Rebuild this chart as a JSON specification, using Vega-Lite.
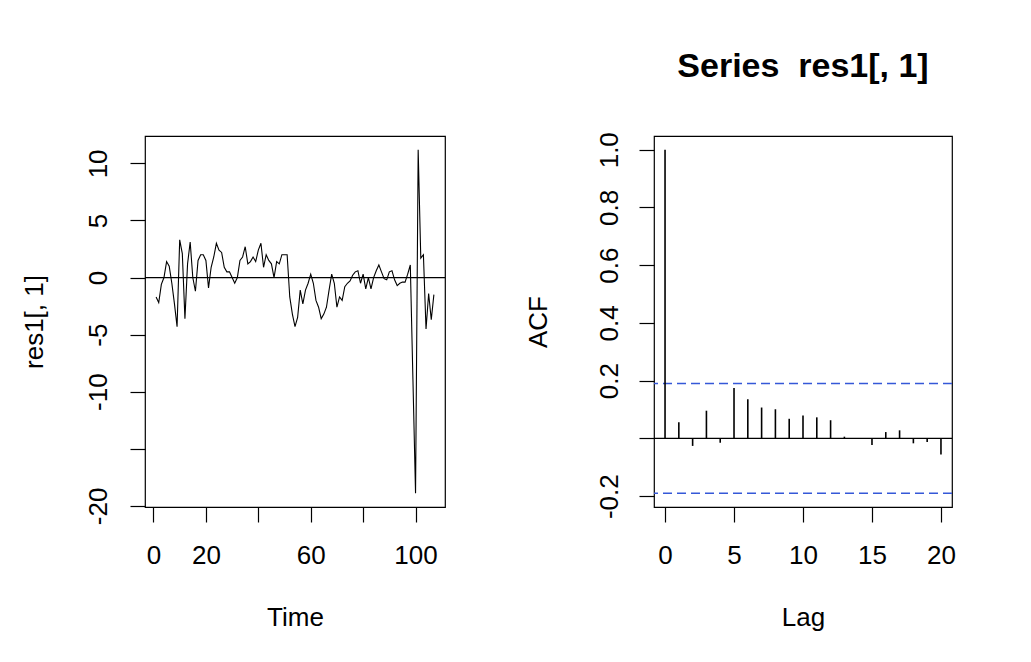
{
  "$schema": "https://vega.github.io/schema/vega-lite/v6.json",
  "padding": {"left": 20, "top": 49, "right": 0, "bottom": 0},
  "background": "white",
  "spacing": 77,
  "config": {
    "view": {"stroke": "black", "strokeWidth": 1.2},
    "font": "Liberation Sans",
    "axis": {
      "domain": false, "grid": false,
      "tickColor": "black", "tickSize": 15, "tickWidth": 1.2,
      "labelFont": "Liberation Sans", "labelFontSize": 26, "labelColor": "black",
      "titleFont": "Liberation Sans", "titleFontSize": 26, "titleFontWeight": "normal", "titleColor": "black",
      "labelOverlap": false, "labelFlush": false
    }
  },
  "datasets": {
    "ts": [
      {"t":1,"v":-1.7},{"t":2,"v":-2.2},{"t":3,"v":-0.6},{"t":4,"v":0.0},{"t":5,"v":1.4},{"t":6,"v":1.0},{"t":7,"v":-0.5},{"t":8,"v":-2.3},{"t":9,"v":-4.3},{"t":10,"v":3.3},
      {"t":11,"v":2.1},{"t":12,"v":-3.6},{"t":13,"v":1.2},{"t":14,"v":3.1},{"t":15,"v":0.0},{"t":16,"v":-1.2},{"t":17,"v":1.5},{"t":18,"v":2.0},{"t":19,"v":2.0},{"t":20,"v":1.5},
      {"t":21,"v":-0.9},{"t":22,"v":0.9},{"t":23,"v":1.8},{"t":24,"v":3.0},{"t":25,"v":2.4},{"t":26,"v":2.2},{"t":27,"v":0.9},{"t":28,"v":0.5},{"t":29,"v":0.5},{"t":30,"v":0.0},
      {"t":31,"v":-0.5},{"t":32,"v":0.0},{"t":33,"v":1.5},{"t":34,"v":1.8},{"t":35,"v":2.7},{"t":36,"v":1.2},{"t":37,"v":1.4},{"t":38,"v":1.8},{"t":39,"v":1.4},{"t":40,"v":2.4},
      {"t":41,"v":3.0},{"t":42,"v":0.9},{"t":43,"v":2.0},{"t":44,"v":1.5},{"t":45,"v":1.2},{"t":46,"v":0.0},{"t":47,"v":1.4},{"t":48,"v":1.2},{"t":49,"v":2.0},{"t":50,"v":2.0},
      {"t":51,"v":2.0},{"t":52,"v":-1.7},{"t":53,"v":-3.2},{"t":54,"v":-4.3},{"t":55,"v":-3.5},{"t":56,"v":-1.1},{"t":57,"v":-2.3},{"t":58,"v":-1.1},{"t":59,"v":-0.5},{"t":60,"v":0.3},
      {"t":61,"v":-0.5},{"t":62,"v":-2.0},{"t":63,"v":-2.6},{"t":64,"v":-3.6},{"t":65,"v":-3.2},{"t":66,"v":-2.6},{"t":67,"v":-1.1},{"t":68,"v":0.3},{"t":69,"v":-0.5},{"t":70,"v":-2.6},
      {"t":71,"v":-1.7},{"t":72,"v":-2.0},{"t":73,"v":-0.8},{"t":74,"v":-0.5},{"t":75,"v":-0.3},{"t":76,"v":0.2},{"t":77,"v":0.5},{"t":78,"v":0.6},{"t":79,"v":-0.5},{"t":80,"v":0.3},
      {"t":81,"v":-1.0},{"t":82,"v":0.0},{"t":83,"v":-1.0},{"t":84,"v":0.0},{"t":85,"v":0.6},{"t":86,"v":1.1},{"t":87,"v":0.5},{"t":88,"v":-0.1},{"t":89,"v":-0.2},{"t":90,"v":0.5},
      {"t":91,"v":0.6},{"t":92,"v":-0.2},{"t":93,"v":-0.7},{"t":94,"v":-0.5},{"t":95,"v":-0.4},{"t":96,"v":-0.4},{"t":97,"v":0.3},{"t":98,"v":1.1},{"t":99,"v":-8.9},{"t":100,"v":-18.9},
      {"t":101,"v":11.2},{"t":102,"v":1.7},{"t":103,"v":2.0},{"t":104,"v":-4.5},{"t":105,"v":-1.4},{"t":106,"v":-3.7},{"t":107,"v":-1.5}
    ],
    "acf": [
      {"lag":0,"acf":1.0},{"lag":1,"acf":0.056},{"lag":2,"acf":-0.026},{"lag":3,"acf":0.096},{"lag":4,"acf":-0.015},
      {"lag":5,"acf":0.175},{"lag":6,"acf":0.136},{"lag":7,"acf":0.107},{"lag":8,"acf":0.101},{"lag":9,"acf":0.068},
      {"lag":10,"acf":0.079},{"lag":11,"acf":0.073},{"lag":12,"acf":0.063},{"lag":13,"acf":0.006},{"lag":14,"acf":-0.002},
      {"lag":15,"acf":-0.023},{"lag":16,"acf":0.022},{"lag":17,"acf":0.028},{"lag":18,"acf":-0.017},{"lag":19,"acf":-0.012},
      {"lag":20,"acf":-0.056}
    ],
    "ci": [{"c":0.19},{"c":-0.19}],
    "zero": [{"z":0}]
  },
  "hconcat": [
    {
      "width": 300, "height": 371,
      "layer": [
        {
          "data": {"name": "zero"},
          "mark": {"type": "rule", "color": "black", "strokeWidth": 1.2},
          "encoding": {"y": {"field": "z", "type": "quantitative", "scale": {"domain": [-20.1, 12.4], "nice": false, "zero": false}}}
        },
        {
          "data": {"name": "ts"},
          "mark": {"type": "line", "color": "black", "strokeWidth": 1.1, "clip": true},
          "encoding": {
            "x": {"field": "t", "type": "quantitative",
                  "scale": {"domain": [-3.24, 111.24], "nice": false, "zero": false},
                  "axis": {"title": "Time", "values": [0,20,40,60,80,100],
                           "labelExpr": "datum.value == 40 || datum.value == 80 ? '' : toString(datum.value)",
                           "labelPadding": 20, "titlePadding": 36}},
            "y": {"field": "v", "type": "quantitative",
                  "scale": {"domain": [-20.1, 12.4], "nice": false, "zero": false},
                  "axis": {"title": "res1[, 1]", "values": [-20,-15,-10,-5,0,5,10],
                           "labelExpr": "datum.value == -15 ? '' : toString(datum.value)",
                           "labelAngle": -90, "labelAlign": "center", "labelBaseline": "alphabetic",
                           "labelPadding": 24, "titlePadding": 43, "titleBaseline": "alphabetic"}}
          }
        }
      ]
    },
    {
      "width": 298, "height": 371,
      "title": {"text": "Series\u00a0 res1[, 1]", "fontSize": 34, "fontWeight": "bold", "font": "Liberation Sans", "color": "black", "offset": 48, "anchor": "middle"},
      "layer": [
        {
          "data": {"name": "zero"},
          "mark": {"type": "rule", "color": "black", "strokeWidth": 1.2},
          "encoding": {"y": {"field": "z", "type": "quantitative", "scale": {"domain": [-0.2376, 1.0476], "nice": false, "zero": false}}}
        },
        {
          "data": {"name": "ci"},
          "mark": {"type": "rule", "color": "#3558d8", "strokeWidth": 1.4, "strokeDash": [9, 5]},
          "encoding": {"y": {"field": "c", "type": "quantitative"}}
        },
        {
          "data": {"name": "acf"},
          "mark": {"type": "rule", "color": "black", "strokeWidth": 1.6},
          "encoding": {
            "x": {"field": "lag", "type": "quantitative",
                  "scale": {"domain": [-0.8, 20.8], "nice": false, "zero": false},
                  "axis": {"title": "Lag", "values": [0,5,10,15,20], "labelPadding": 20, "titlePadding": 36}},
            "y": {"field": "acf", "type": "quantitative",
                  "scale": {"domain": [-0.2376, 1.0476], "nice": false, "zero": false},
                  "axis": {"title": "ACF", "values": [-0.2,0,0.2,0.4,0.6,0.8,1.0],
                           "labelExpr": "datum.value == 0 ? '' : (datum.value < 0 ? '-' : '') + format(abs(datum.value), '.1f')",
                           "labelAngle": -90, "labelAlign": "center", "labelBaseline": "alphabetic",
                           "labelPadding": 22, "titlePadding": 50, "titleBaseline": "alphabetic"}},
            "y2": {"datum": 0}
          }
        }
      ]
    }
  ]
}
